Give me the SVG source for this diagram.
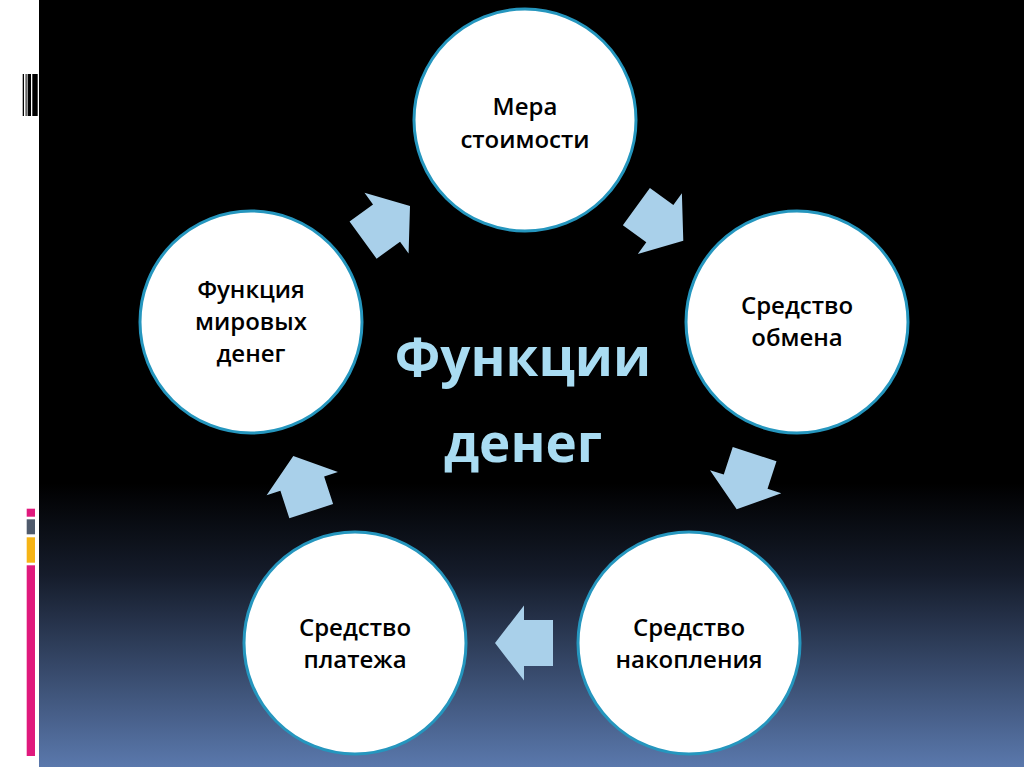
<svg xmlns="http://www.w3.org/2000/svg" width="1024" height="767" viewBox="0 0 1024 767">
  <defs>
    <linearGradient id="bg" x1="0" y1="0" x2="0" y2="767" gradientUnits="userSpaceOnUse">
      <stop offset="0" stop-color="#000000"/>
      <stop offset="0.63" stop-color="#000000"/>
      <stop offset="0.75" stop-color="#151c2b"/>
      <stop offset="1" stop-color="#5a78ac"/>
    </linearGradient>
    <polygon id="arr" points="0,0 -29,-37.5 -29,-23 -58,-23 -58,23 -29,23 -29,37.5"/>
  </defs>
  <style>
    .node circle { fill: #ffffff; stroke: #2596be; stroke-width: 3; }
    .lbl { font-family: "Open Sans", "Liberation Sans", sans-serif; font-weight: 600; font-size: 24px; fill: #000000; text-anchor: middle; }
    .title { font-family: "Open Sans", "Liberation Sans", sans-serif; font-weight: 700; font-size: 53px; fill: #a9dcf2; text-anchor: middle; }
    .arrows use { fill: #a9d0ea; }
  </style>
  <rect x="0" y="0" width="1024" height="767" fill="#ffffff"/>
  <rect x="39" y="0" width="985" height="767" fill="url(#bg)"/>
  <g id="deco-top" fill="#000000">
    <rect x="22.7" y="74" width="1.3" height="42"/>
    <rect x="25.6" y="74" width="1" height="42"/>
    <rect x="27.6" y="74" width="3.4" height="42"/>
    <rect x="32.3" y="74" width="5.4" height="42"/>
  </g>
  <g id="deco-bottom">
    <rect x="26.7" y="508.7" width="8.3" height="8" fill="#e0197d"/>
    <rect x="26.7" y="519.3" width="8.3" height="15" fill="#4f5a6c"/>
    <rect x="26.7" y="537.3" width="8.3" height="25.4" fill="#f6b415"/>
    <rect x="26.7" y="565.3" width="8.3" height="190.7" fill="#e0197d"/>
  </g>
  <g id="connectors" class="arrows">
    <use href="#arr" transform="translate(410,206) rotate(-36)"/>
    <use href="#arr" transform="translate(683.3,240.7) rotate(36)"/>
    <use href="#arr" transform="translate(736.7,509.3) rotate(108)"/>
    <use href="#arr" transform="translate(495,643) rotate(180)"/>
    <use href="#arr" transform="translate(293.3,456) rotate(252)"/>
  </g>
  <g id="node-mera" class="node">
    <circle cx="525" cy="120" r="111"/>
    <text class="lbl" x="525" y="115">Мера</text>
    <text class="lbl" x="525" y="148">стоимости</text>
  </g>
  <g id="node-obmen" class="node">
    <circle cx="797" cy="322" r="111"/>
    <text class="lbl" x="797" y="314">Средство</text>
    <text class="lbl" x="797" y="346">обмена</text>
  </g>
  <g id="node-nakop" class="node">
    <circle cx="689" cy="643" r="111"/>
    <text class="lbl" x="689" y="636">Средство</text>
    <text class="lbl" x="689" y="668">накопления</text>
  </g>
  <g id="node-platezh" class="node">
    <circle cx="355" cy="643" r="111"/>
    <text class="lbl" x="355" y="636">Средство</text>
    <text class="lbl" x="355" y="668">платежа</text>
  </g>
  <g id="node-mir" class="node">
    <circle cx="251" cy="322" r="111"/>
    <text class="lbl" x="251" y="298">Функция</text>
    <text class="lbl" x="251" y="330">мировых</text>
    <text class="lbl" x="251" y="362">денег</text>
  </g>
  <g id="title">
    <text class="title" x="523" y="376">Функции</text>
    <text class="title" x="523" y="462">денег</text>
  </g>
</svg>
